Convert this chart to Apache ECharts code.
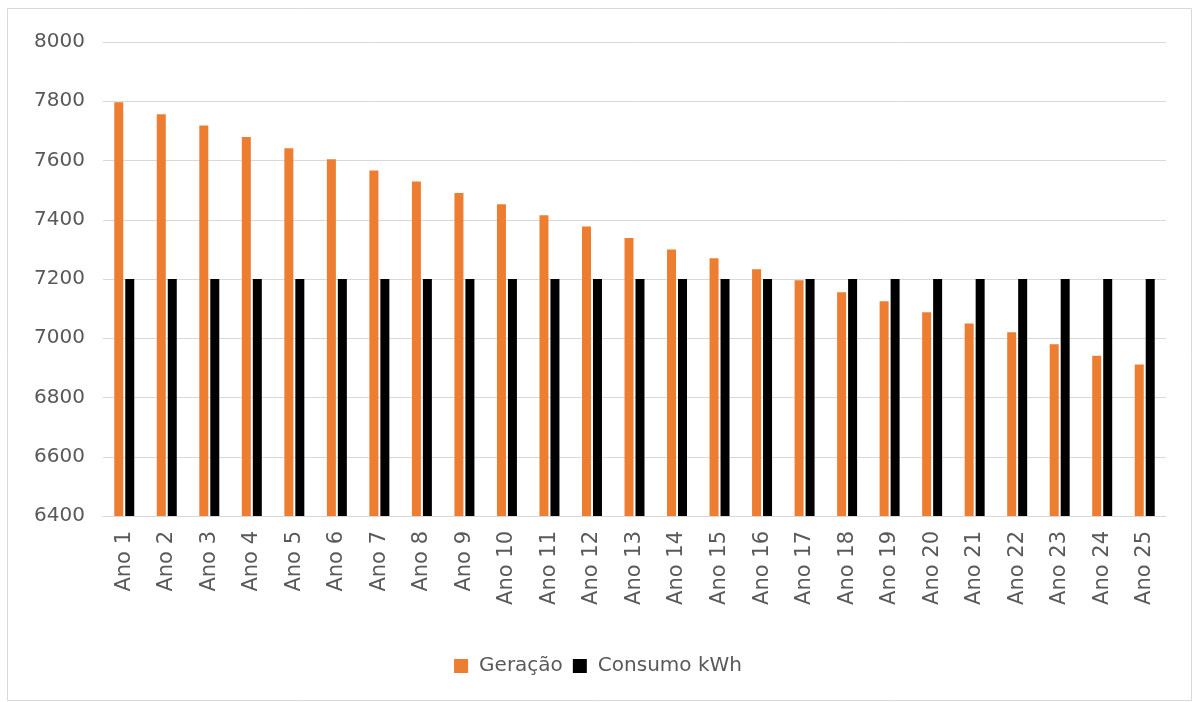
<!DOCTYPE html>
<html>
<head>
<meta charset="utf-8">
<script src="https://cdn.jsdelivr.net/npm/echarts@6/dist/echarts.min.js"></script>
<style>
  html, body { margin: 0; padding: 0; background: #fff; }
  #chart { width: 1196px; height: 702px; }
</style>
</head>
<body>
<div id="chart"></div>
<script>
// data
const anos = [];
for (let i = 1; i <= 25; i++) anos.push('Ano ' + i);

const geracao = [
  7797, 7756, 7718, 7679, 7641, 7604, 7566, 7529, 7490, 7452,
  7415, 7377, 7338, 7300, 7270, 7233, 7196, 7155, 7125, 7088,
  7050, 7020, 6980, 6941, 6911
];
const consumo = [
  7200, 7200, 7200, 7200, 7200, 7200, 7200, 7200, 7200, 7200,
  7200, 7200, 7200, 7200, 7200, 7200, 7200, 7200, 7200, 7200,
  7200, 7200, 7200, 7200, 7200
];
const seriesNames = ['Geração', 'Consumo kWh'];

const font = '"DejaVu Sans", "Open Sans", sans-serif';
const textColor = '#595959';

const chart = echarts.init(document.getElementById('chart'));

chart.setOption({
  animation: false,
  backgroundColor: '#fff',
  textStyle: {fontFamily: font},
  graphic: [{
    type: 'rect',
    shape: {x: 7.5, y: 8.5, width: 1184, height: 692},
    style: {fill: null, stroke: '#d9d9d9', lineWidth: 1},
    silent: true
  }],
  grid: {left: 103, right: 30, top: 42, bottom: 186},
  legend: {
    top: 651,
    left: 'center',
    itemWidth: 14,
    itemHeight: 14,
    itemGap: 10,
    icon: 'rect',
    textStyle: {color: textColor, fontSize: 20, fontFamily: font, padding: [0, 0, 0, 6]},
    data: seriesNames
  },
  xAxis: {
    type: 'category',
    data: anos,
    axisTick: {show: false},
    axisLine: {show: true, lineStyle: {color: '#d9d9d9'}},
    axisLabel: {
      rotate: 90,
      interval: 0,
      margin: 15,
      color: textColor,
      fontSize: 21,
      fontFamily: font
    }
  },
  yAxis: {
    type: 'value',
    min: 6400,
    max: 8000,
    interval: 200,
    axisLine: {show: false},
    axisTick: {show: false},
    splitLine: {lineStyle: {color: '#d9d9d9', width: 1}},
    axisLabel: {
      color: textColor,
      fontSize: 20,
      margin: 18,
      fontFamily: font,
      formatter: (v) => String(v)
    }
  },
  series: [
    {
      name: seriesNames[0],
      type: 'bar',
      data: geracao,
      barWidth: 9,
      barGap: '22%',
      itemStyle: {color: '#ED7D31'}
    },
    {
      name: seriesNames[1],
      type: 'bar',
      data: consumo,
      barWidth: 9,
      itemStyle: {color: '#000000'}
    }
  ]
});
</script>
</body>
</html>
